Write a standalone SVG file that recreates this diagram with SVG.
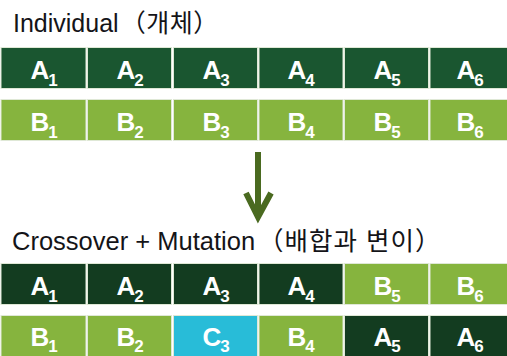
<svg xmlns="http://www.w3.org/2000/svg" width="507" height="356" viewBox="0 0 507 356">
<defs>
<style>
.t{font-family:"Liberation Sans","Noto Sans CJK KR",sans-serif;font-size:25px;fill:#141418}
.c{stroke:#dfe8d6;stroke-width:1}
.dk{fill:#1a5630}
.dd{fill:#133c20}
.lg{fill:#86b43e}
.cy{fill:#28bcd8}
.l{font-family:"Liberation Sans",Arial,sans-serif;font-weight:bold;font-size:26px;fill:#ffffff;text-anchor:middle}
.s{font-size:17px}
</style>
</defs>
<rect width="507" height="356" fill="#ffffff"/>
<text class="t" x="13" y="32">Individual<tspan dx="2" letter-spacing="0.5">（개체）</tspan></text>
<text class="t" x="12" y="250" style="font-size:25.5px">Crossover + Mutation<tspan dx="3" letter-spacing="1">（배합과 변이）</tspan></text>

<g id="row1">
<g id="A1-top"><rect class="c dk" x="1" y="47.5" width="85" height="41"/><text class="l" x="44" y="79">A<tspan class="s" dx="-1" dy="7">1</tspan></text></g>
<g id="A2-top"><rect class="c dk" x="87.5" y="47.5" width="84" height="41"/><text class="l" x="130" y="79">A<tspan class="s" dx="-1" dy="7">2</tspan></text></g>
<g id="A3-top"><rect class="c dk" x="173.5" y="47.5" width="84" height="41"/><text class="l" x="216" y="79">A<tspan class="s" dx="-1" dy="7">3</tspan></text></g>
<g id="A4-top"><rect class="c dk" x="259" y="47.5" width="84" height="41"/><text class="l" x="301" y="79">A<tspan class="s" dx="-1" dy="7">4</tspan></text></g>
<g id="A5-top"><rect class="c dk" x="344.5" y="47.5" width="84" height="41"/><text class="l" x="387" y="79">A<tspan class="s" dx="-1" dy="7">5</tspan></text></g>
<g id="A6-top"><rect class="c dk" x="430" y="47.5" width="78" height="41"/><text class="l" x="470" y="79">A<tspan class="s" dx="-1" dy="7">6</tspan></text></g>
</g>

<g id="row2">
<g id="B1-top"><rect class="c lg" x="1" y="99.5" width="85" height="41"/><text class="l" x="44" y="131">B<tspan class="s" dx="-1" dy="7">1</tspan></text></g>
<g id="B2-top"><rect class="c lg" x="87.5" y="99.5" width="84" height="41"/><text class="l" x="130" y="131">B<tspan class="s" dx="-1" dy="7">2</tspan></text></g>
<g id="B3-top"><rect class="c lg" x="173.5" y="99.5" width="84" height="41"/><text class="l" x="216" y="131">B<tspan class="s" dx="-1" dy="7">3</tspan></text></g>
<g id="B4-top"><rect class="c lg" x="259" y="99.5" width="84" height="41"/><text class="l" x="301" y="131">B<tspan class="s" dx="-1" dy="7">4</tspan></text></g>
<g id="B5-top"><rect class="c lg" x="344.5" y="99.5" width="84" height="41"/><text class="l" x="387" y="131">B<tspan class="s" dx="-1" dy="7">5</tspan></text></g>
<g id="B6-top"><rect class="c lg" x="430" y="99.5" width="78" height="41"/><text class="l" x="470" y="131">B<tspan class="s" dx="-1" dy="7">6</tspan></text></g>
</g>

<g id="connectors">
<path d="M258 152 V216 M246 193 L258 217 L271 193" fill="none" stroke="#4a6a20" stroke-width="6" stroke-linecap="butt" stroke-linejoin="miter"/>
</g>

<g id="row3">
<g id="A1-bot"><rect class="c dd" x="1" y="263.5" width="85" height="41"/><text class="l" x="44" y="295">A<tspan class="s" dx="-1" dy="7">1</tspan></text></g>
<g id="A2-bot"><rect class="c dd" x="87.5" y="263.5" width="84" height="41"/><text class="l" x="130" y="295">A<tspan class="s" dx="-1" dy="7">2</tspan></text></g>
<g id="A3-bot"><rect class="c dd" x="173.5" y="263.5" width="84" height="41"/><text class="l" x="216" y="295">A<tspan class="s" dx="-1" dy="7">3</tspan></text></g>
<g id="A4-bot"><rect class="c dd" x="259" y="263.5" width="84" height="41"/><text class="l" x="301" y="295">A<tspan class="s" dx="-1" dy="7">4</tspan></text></g>
<g id="B5-bot"><rect class="c lg" x="344.5" y="263.5" width="84" height="41"/><text class="l" x="387" y="295">B<tspan class="s" dx="-1" dy="7">5</tspan></text></g>
<g id="B6-bot"><rect class="c lg" x="430" y="263.5" width="78" height="41"/><text class="l" x="470" y="295">B<tspan class="s" dx="-1" dy="7">6</tspan></text></g>
</g>

<g id="row4">
<g id="B1-bot"><rect class="c lg" x="1" y="315.5" width="85" height="42"/><text class="l" x="44" y="346">B<tspan class="s" dx="-1" dy="6">1</tspan></text></g>
<g id="B2-bot"><rect class="c lg" x="87.5" y="315.5" width="84" height="42"/><text class="l" x="130" y="346">B<tspan class="s" dx="-1" dy="6">2</tspan></text></g>
<g id="C3-bot"><rect class="c cy" x="173.5" y="315.5" width="84" height="42"/><text class="l" x="216" y="346">C<tspan class="s" dx="-1" dy="6">3</tspan></text></g>
<g id="B4-bot"><rect class="c lg" x="259" y="315.5" width="84" height="42"/><text class="l" x="301" y="346">B<tspan class="s" dx="-1" dy="6">4</tspan></text></g>
<g id="A5-bot"><rect class="c dd" x="344.5" y="315.5" width="84" height="42"/><text class="l" x="387" y="346">A<tspan class="s" dx="-1" dy="6">5</tspan></text></g>
<g id="A6-bot"><rect class="c dd" x="430" y="315.5" width="78" height="42"/><text class="l" x="470" y="346">A<tspan class="s" dx="-1" dy="6">6</tspan></text></g>
</g>
</svg>
